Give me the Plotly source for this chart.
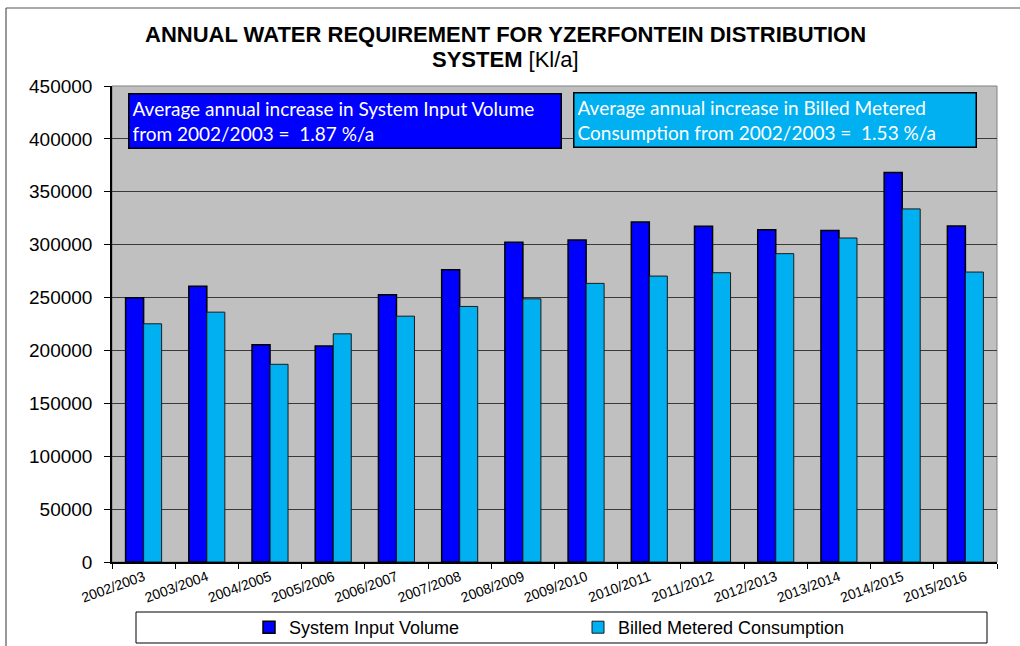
import plotly.graph_objects as go

categories = ["2002/2003", "2003/2004", "2004/2005", "2005/2006", "2006/2007", "2007/2008",
              "2008/2009", "2009/2010", "2010/2011", "2011/2012", "2012/2013", "2013/2014",
              "2014/2015", "2015/2016"]
system_input_volume = [249800, 260800, 205300, 204300, 252600, 276300, 302200,
                       304400, 321500, 317400, 314200, 313300, 368200, 317700]
billed_metered = [225200, 236200, 186900, 215700, 232400, 241600, 248800,
                  263400, 270300, 273500, 291500, 306300, 333800, 274100]
y_ticks = [0, 50000, 100000, 150000, 200000, 250000, 300000, 350000, 400000, 450000]

title_line1 = "<b>ANNUAL WATER REQUIREMENT FOR YZERFONTEIN DISTRIBUTION</b>"
title_line2 = "<b>SYSTEM</b> [Kl/a]"
note_siv = "Average annual increase in System Input Volume<br>from 2002/2003 =  1.87 %/a"
note_bmc = "Average annual increase in Billed Metered<br>Consumption from 2002/2003 =  1.53 %/a"

W, H = 1020, 646
L, R, T, B = 112, 23, 86, 84
pw, ph = W - L - R, H - T - B

def px(x):
    return (x - L) / pw

def py(y):
    return (H - B - y) / ph

fig = go.Figure()
fig.add_trace(go.Bar(x=categories, y=system_input_volume, name="System Input Volume",
                     marker=dict(color="#0000FF", line=dict(color="#000000", width=1.5))))
fig.add_trace(go.Bar(x=categories, y=billed_metered, name="Billed Metered Consumption",
                     marker=dict(color="#00B0F0", line=dict(color="#1a1a1a", width=1))))

shapes = [
    dict(type="rect", xref="paper", yref="paper", x0=0, x1=1, y0=0, y1=1,
         line=dict(color="#808080", width=1), layer="below"),
    dict(type="line", xref="paper", yref="paper", x0=px(6), x1=px(6), y0=py(8), y1=py(H + 5),
         line=dict(color="#555555", width=1.2)),
    dict(type="line", xref="paper", yref="paper", x0=px(6), x1=px(W + 5), y0=py(8), y1=py(8),
         line=dict(color="#555555", width=1.2)),
    dict(type="rect", xref="paper", yref="paper", x0=px(136), x1=px(987), y0=py(643), y1=py(612),
         line=dict(color="#000000", width=1), fillcolor="white"),
]

bp = 3
note_font = dict(family="Lato, Open Sans, sans-serif", size=19, color="white")
title_font = dict(family="Liberation Sans, Arial, sans-serif", size=22, color="black")
annotations = [
    dict(text=title_line1, xref="paper", yref="paper", x=px(505), y=py(35), xanchor="center",
         yanchor="middle", showarrow=False, font=title_font),
    dict(text=title_line2, xref="paper", yref="paper", x=px(505), y=py(60), xanchor="center",
         yanchor="middle", showarrow=False, font=title_font),
    dict(text=note_siv, xref="paper", yref="paper", x=px(128), y=py(93), xanchor="left", yanchor="top",
         showarrow=False, align="left", valign="middle", bgcolor="#0000FF", bordercolor="#000000",
         borderwidth=1.5, borderpad=bp, width=434 - 2 * bp - 3, height=56 - 2 * bp - 3,
         font=note_font),
    dict(text=note_bmc, xref="paper", yref="paper", x=px(573), y=py(92), xanchor="left", yanchor="top",
         showarrow=False, align="left", valign="middle", bgcolor="#00B0F0", bordercolor="#000000",
         borderwidth=1.5, borderpad=bp, width=404 - 2 * bp - 3, height=56 - 2 * bp - 3,
         font=note_font),
]

fig.update_layout(
    width=W, height=H,
    margin=dict(l=L, r=R, t=T, b=B, autoexpand=False),
    paper_bgcolor="white", plot_bgcolor="#C0C0C0",
    barmode="group", bargap=0.43, bargroupgap=0,
    showlegend=True,
    legend=dict(orientation="h", x=px(249), y=py(627.5), xanchor="left", yanchor="middle",
                bgcolor="rgba(0,0,0,0)", entrywidth=284, entrywidthmode="pixels",
                font=dict(family="Liberation Sans, Arial, sans-serif", size=18, color="black"),
                itemwidth=30),
    xaxis=dict(type="category", tickangle=-20, tickson="boundaries", ticks="outside", ticklen=5,
               tickcolor="#000", showline=True, linecolor="#000", linewidth=1.5,
               tickfont=dict(family="Liberation Sans, Arial, sans-serif", size=14, color="black"),
               showgrid=False, fixedrange=True),
    yaxis=dict(range=[0, 450000], tickvals=y_ticks, ticktext=[str(v) for v in y_ticks],
               ticks="outside", ticklen=6, tickcolor="#000", showline=True, linecolor="#000",
               linewidth=1.5, showgrid=True, gridcolor="#3a3a3a", gridwidth=1, zeroline=False,
               ticklabelstandoff=8,
               tickfont=dict(family="Liberation Sans, Arial, sans-serif", size=19, color="black")),
    shapes=shapes, annotations=annotations,
    font=dict(family="Liberation Sans, Arial, sans-serif"),
)

fig.write_html("out.html", config={"displayModeBar": False},
               post_script="document.body.style.margin='0';document.body.style.overflow='hidden';")
